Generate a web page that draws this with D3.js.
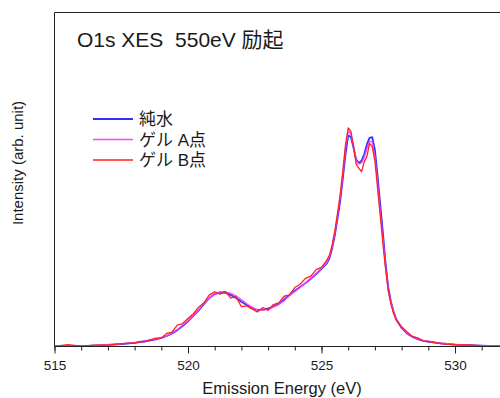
<!DOCTYPE html>
<html lang="ja">
    <head>
        <meta charset="utf-8">
        <title>O1s XES 550eV</title>
        <script type="text/javascript" src="https://cdn.jsdelivr.net/npm/d3@7"></script>
        <style type="text/css">
            body{
                margin: 0;
                background: #fff;
            }
            text{
                font-family: 'Liberation Sans', Arial, 'Noto Sans CJK JP', sans-serif;
                fill: #1a1a1a;
            }
            .axis path,.axis line{
                stroke: #222;
            }
            .axis text{
                font-size: 13.5px;
            }
        </style>
    </head>

    <body>
        <script type="text/javascript">
            // chart dimensions
            const svgW = 500;
            const svgH = 398;

            // emission energy (eV)
            const energy = [515, 515.5, 516, 516.5, 517, 517.5,
                518.0, 518.2, 518.4, 518.6, 518.8, 519.0, 519.2, 519.4, 519.6, 519.8,
                520.0, 520.2, 520.4, 520.6, 520.8, 521.0, 521.2, 521.4, 521.6, 521.8,
                522.0, 522.2, 522.4, 522.6, 522.8, 523.0, 523.2, 523.4, 523.6, 523.8,
                524.0, 524.2, 524.4, 524.6, 524.8, 525.0, 525.2,
                525.3, 525.4, 525.5, 525.6, 525.7, 525.8, 525.9, 526.0, 526.1, 526.2,
                526.3, 526.4, 526.5, 526.6, 526.7, 526.8, 526.9, 527.0, 527.1, 527.2,
                527.3, 527.4, 527.5, 527.6, 527.7, 527.8,
                528.0, 528.2, 528.4, 528.6, 528.8, 529.0,
                529.5, 530.0, 530.5, 531.0, 531.5, 531.8];

            // 純水
            const pureWater = [0.000, 0.001, 0.002, 0.004, 0.007, 0.011,
                0.017, 0.020, 0.024, 0.028, 0.033, 0.039, 0.048, 0.060, 0.075, 0.094,
                0.115, 0.140, 0.165, 0.195, 0.222, 0.240, 0.248, 0.246, 0.236, 0.222,
                0.205, 0.190, 0.176, 0.167, 0.168, 0.174, 0.183, 0.195, 0.215, 0.235,
                0.255, 0.272, 0.290, 0.310, 0.332, 0.355, 0.380,
                0.405, 0.450, 0.510, 0.585, 0.665, 0.770, 0.880, 0.965, 0.960, 0.910,
                0.855, 0.840, 0.850, 0.880, 0.925, 0.955, 0.958, 0.900, 0.780, 0.650,
                0.520, 0.380, 0.270, 0.205, 0.160, 0.125,
                0.085, 0.060, 0.045, 0.034, 0.027, 0.021,
                0.014, 0.009, 0.006, 0.004, 0.002, 0.001];

            // ゲル A点
            const gelA = [0.002, 0.003, 0.003, 0.005, 0.008, 0.012,
                0.018, 0.021, 0.025, 0.030, 0.035, 0.041, 0.050, 0.062, 0.078, 0.097,
                0.118, 0.142, 0.168, 0.197, 0.222, 0.242, 0.250, 0.250, 0.243, 0.232,
                0.214, 0.196, 0.180, 0.168, 0.166, 0.170, 0.180, 0.192, 0.210, 0.232,
                0.252, 0.270, 0.292, 0.312, 0.334, 0.358, 0.384,
                0.410, 0.458, 0.520, 0.598, 0.680, 0.790, 0.905, 0.985, 0.975, 0.915,
                0.850, 0.835, 0.840, 0.865, 0.905, 0.940, 0.935, 0.870, 0.750, 0.620,
                0.495, 0.365, 0.262, 0.200, 0.158, 0.125,
                0.088, 0.062, 0.046, 0.036, 0.028, 0.022,
                0.015, 0.010, 0.006, 0.004, 0.003, 0.002];

            // ゲル B点
            const gelB = [0.001, 0.008, 0.002, 0.006, 0.006, 0.013,
                0.016, 0.023, 0.022, 0.031, 0.038, 0.038, 0.060, 0.066, 0.098, 0.105,
                0.128, 0.150, 0.180, 0.200, 0.236, 0.250, 0.240, 0.252, 0.222, 0.228,
                0.182, 0.186, 0.172, 0.158, 0.178, 0.166, 0.192, 0.200, 0.230, 0.236,
                0.270, 0.285, 0.312, 0.322, 0.352, 0.362, 0.395,
                0.418, 0.465, 0.530, 0.610, 0.695, 0.805, 0.925, 1.000, 0.985, 0.915,
                0.835, 0.815, 0.800, 0.845, 0.870, 0.930, 0.915, 0.850, 0.725, 0.600,
                0.470, 0.355, 0.255, 0.195, 0.150, 0.120,
                0.090, 0.068, 0.046, 0.040, 0.026, 0.024,
                0.012, 0.008, 0.007, 0.003, 0.002, 0.002];

            const seriesNames = ["純水", "ゲル A点", "ゲル B点"];
            const seriesColors = ["#3030ff", "#ff40ff", "#ff2020"];
            const majorTicks = [515, 520, 525, 530];
            const minorTicks = d3.range(515, 532, 1);

            // plot area
            const plotL = 54.5, plotT = 12.5, plotB = 346.5, plotR = svgW;

            const scaleX = d3.scaleLinear()
                            .domain([515, 530])
                            .range([plotL, 455]);
            const scaleY = d3.scaleLinear()
                            .domain([0, 1])
                            .range([plotB, 128]);

            const svg = d3.select("body")
                        .append("svg")
                        .attr("width", svgW)
                        .attr("height", svgH);

            svg.append("clipPath")
                .attr("id", "plotClip")
                .append("rect")
                .attr("x", plotL)
                .attr("y", plotT)
                .attr("width", plotR - plotL)
                .attr("height", plotB - plotT);

            // spectra (blue under, red on top)
            const allSeries = [pureWater, gelA, gelB];
            const line = d3.line()
                            .x((d, i) => scaleX(energy[i]))
                            .y(d => scaleY(d));

            svg.append("g")
                .attr("clip-path", "url(#plotClip)")
                .selectAll("path")
                .data(allSeries)
                .enter()
                .append("path")
                .attr("d", d => line(d))
                .attr("fill", "none")
                .attr("stroke", (d, i) => seriesColors[i])
                .attr("stroke-width", (d, i) => i === 0 ? 1.8 : 1.3)
                .attr("stroke-linejoin", "round");

            // minor ticks
            svg.append("g")
                .attr("class", "axis")
                .attr("transform", "translate(0," + plotB + ")")
                .call(d3.axisBottom(scaleX).tickValues(minorTicks).tickSize(4).tickFormat(""))
                .call(g => g.select(".domain").remove());

            // major ticks with labels
            svg.append("g")
                .attr("class", "axis")
                .attr("transform", "translate(0," + plotB + ")")
                .call(d3.axisBottom(scaleX).tickValues(majorTicks).tickSize(7).tickSizeOuter(0).tickPadding(7).tickFormat(d3.format("d")))
                .call(g => g.select(".domain").attr("d", "M" + plotL + ",0H" + plotR));

            // left and top frame
            svg.append("path")
                .attr("d", "M" + plotL + "," + plotB + "V" + plotT + "H" + plotR)
                .attr("fill", "none")
                .attr("stroke", "#222");

            // title
            svg.append("text")
                .attr("x", 77)
                .attr("y", 47)
                .attr("font-size", "21px")
                .text("O1s XES\u00a0\u00a0550eV 励起");

            // legend
            const legend = svg.selectAll(".legend")
                            .data(seriesNames)
                            .enter()
                            .append("g")
                            .attr("class", "legend")
                            .attr("transform", (d, i) => "translate(93," + (119 + i * 20.5) + ")");
            legend.append("line")
                .attr("x1", 0)
                .attr("x2", 40)
                .attr("stroke", (d, i) => seriesColors[i])
                .attr("stroke-width", (d, i) => i === 0 ? 1.8 : 1.3);
            legend.append("text")
                .attr("x", 46)
                .attr("y", 6)
                .attr("font-size", "17px")
                .text(d => d);

            // axis labels
            svg.append("text")
                .attr("x", 282)
                .attr("y", 394)
                .attr("text-anchor", "middle")
                .attr("font-size", "16.5px")
                .text("Emission Energy (eV)");

            svg.append("text")
                .attr("transform", "translate(23,163) rotate(-90)")
                .attr("text-anchor", "middle")
                .attr("font-size", "15px")
                .text("Intensity (arb. unit)");
        </script>
    </body>
</html>
